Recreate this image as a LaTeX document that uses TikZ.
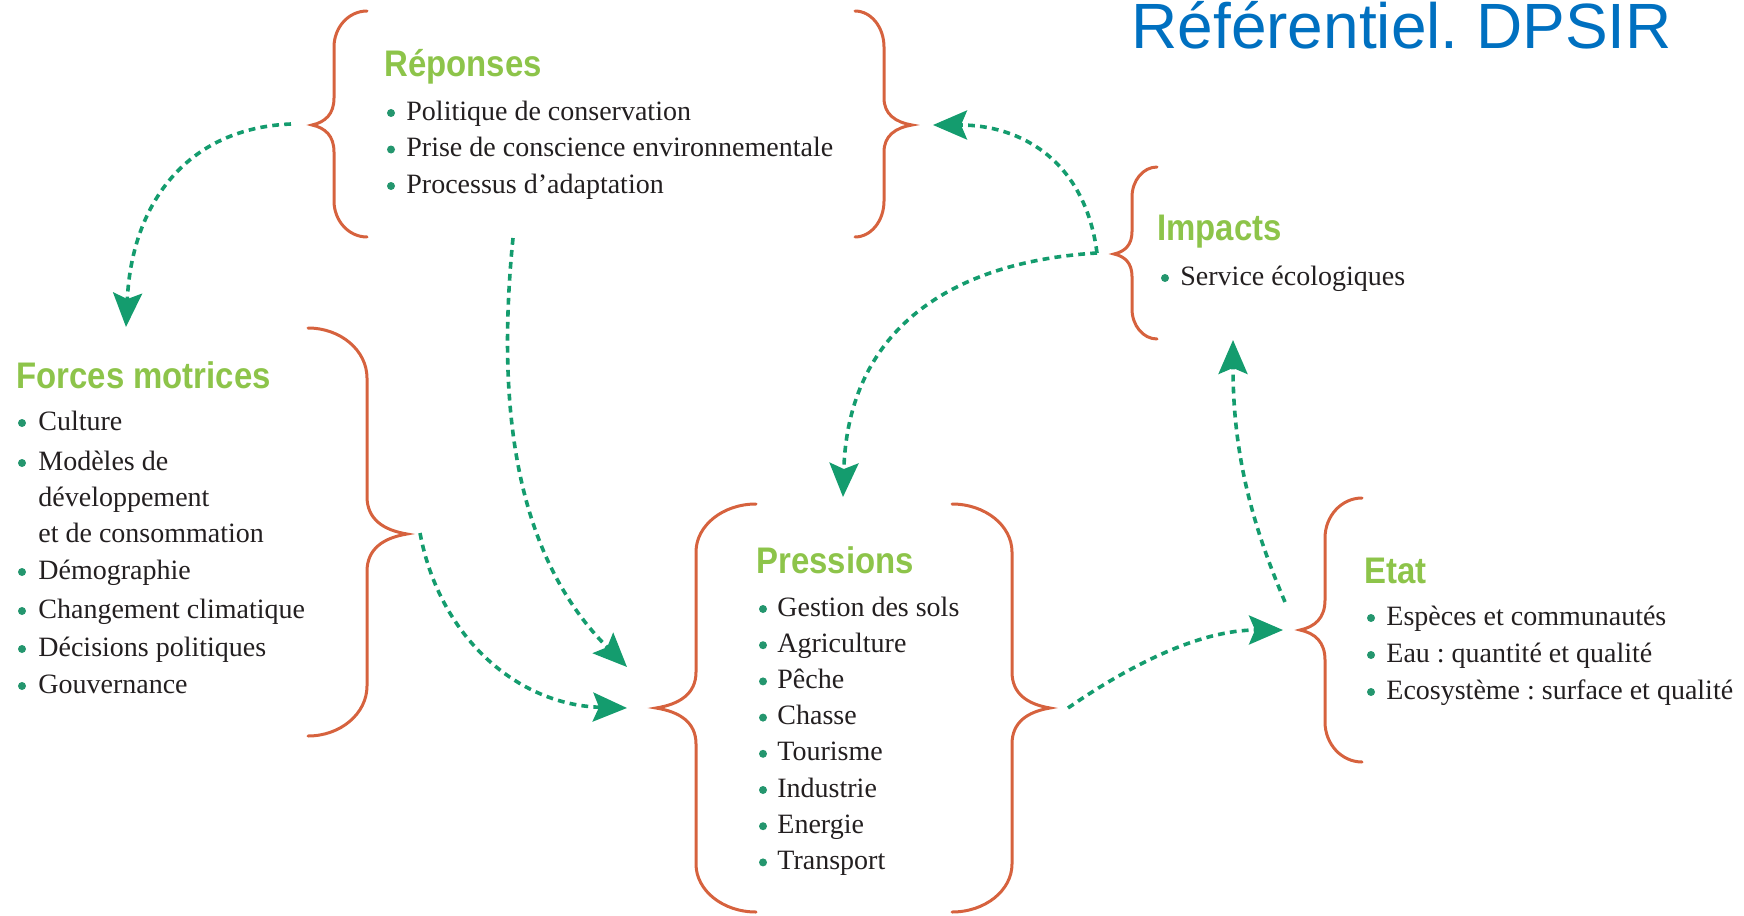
\documentclass[tikz,border=0pt]{standalone}
\usepackage{fontspec}
\setmainfont{Liberation Serif}
\newfontfamily\headfont[FakeStretch=0.89]{Liberation Sans}
\newfontfamily\bannerfont{Liberation Sans}
\usepackage{tikz}
\usetikzlibrary{arrows.meta}
\frenchspacing
\definecolor{bracered}{RGB}{214,98,62}
\definecolor{headgreen}{RGB}{141,196,74}
\definecolor{flowgreen}{RGB}{20,156,110}
\definecolor{dotgreen}{RGB}{36,150,110}
\definecolor{inkgray}{RGB}{35,31,32}
\definecolor{bannerblue}{RGB}{0,112,192}

\newcommand{\curly}[7]{%
  \draw[curlyline] (#1,#4) .. controls ({#1+0.552*(#2-#1)},#4) and (#2,{#4+0.448*#7}) .. (#2,#4+#7)
    -- (#2,{#5-0.75*#7}) .. controls (#2,{#5-0.3*#7}) and ({#2+0.4*(#3-#2)},{#5-0.08*#7}) .. (#3,#5)
    .. controls ({#2+0.4*(#3-#2)},{#5+0.08*#7}) and (#2,{#5+0.3*#7}) .. (#2,{#5+0.75*#7})
    -- (#2,#6-#7) .. controls (#2,{#6-0.448*#7}) and ({#1+0.552*(#2-#1)},#6) .. (#1,#6);}

\begin{document}
\begin{tikzpicture}[x=0.5pt, y=-0.5pt,
    curlyline/.style={draw=bracered, line width=1.5pt, line cap=round},
    blockhead/.style={anchor=base west, inner sep=0pt, text=headgreen,
      font=\headfont\bfseries\fontsize{18.5}{20}\selectfont},
    entry/.style={anchor=base west, inner sep=0pt, text=inkgray,
      font=\fontsize{14}{16}\selectfont},
    flowarrow/.style={draw=flowgreen, line width=1.8pt,
      dash pattern=on 3.4pt off 2.6pt,
      -{Stealth[length=17pt, width=14.5pt, inset=3pt]}}]
    \useasboundingbox (0,0) rectangle (1744,915);

    \node[anchor=base west, inner sep=0pt, text=bannerblue,
      font=\bannerfont\fontsize{32}{36}\selectfont] (banner) at (1131,49)
      {Référentiel. DPSIR};

    \curly{367}{334}{312}{11}{125}{237}{36}
    \curly{855}{884}{912}{11}{125}{237}{36}
    \curly{308}{367}{407}{328}{534}{736}{50}
    \curly{756}{696}{656}{504}{708}{912}{48}
    \curly{952}{1012}{1050}{504}{708}{912}{48}
    \curly{1157}{1132}{1114}{167}{254}{339}{30}
    \curly{1362}{1325}{1300}{498}{630}{762}{40}

    \node[blockhead] (rep) at (384,77) {Réponses};
    \foreach[count=\i] \txt in {Politique de conservation,
        Prise de conscience environnementale, Processus d’adaptation} {
        \node[entry] (rep-\i) at (406,83.5+36.5*\i) {\txt};
        \fill[dotgreen] (391,76.5+36.5*\i) circle[radius=4];
    }

    \node[blockhead] (for) at (16,388) {Forces motrices};
    \foreach[count=\i] \txt/\y/\b in {Culture/430/1, Modèles de/470/1,
        développement/506/0, et de consommation/542/0, Démographie/579/1,
        Changement climatique/618/1, Décisions politiques/656/1,
        Gouvernance/693/1} {
        \node[entry] (for-\i) at (38,\y) {\txt};
        \ifnum\b=1 \fill[dotgreen] (22,\y-7) circle[radius=4]; \fi
    }

    \node[blockhead] (pre) at (756,573) {Pressions};
    \foreach[count=\i] \txt in {Gestion des sols, Agriculture, Pêche, Chasse,
        Tourisme, Industrie, Energie, Transport} {
        \node[entry] (pre-\i) at (777,579.8+36.2*\i) {\txt};
        \fill[dotgreen] (763,572.8+36.2*\i) circle[radius=4];
    }

    \node[blockhead] (imp) at (1157,240) {Impacts};
    \node[entry] (imp-1) at (1180,285) {Service écologiques};
    \fill[dotgreen] (1165,278) circle[radius=4];

    \node[blockhead] (eta) at (1364,583) {Etat};
    \foreach[count=\i] \txt in {Espèces et communautés,
        Eau : quantité et qualité, Ecosystème : surface et qualité} {
        \node[entry] (eta-\i) at (1386,588+37*\i) {\txt};
        \fill[dotgreen] (1371,581+37*\i) circle[radius=4];
    }

    \coordinate (rep-w) at (291,124);
    \coordinate (rep-s) at (513,238);
    \coordinate (rep-e) at (933,125);
    \coordinate (for-n) at (126,327);
    \coordinate (for-e) at (420,533);
    \coordinate (pre-nw) at (627,667);
    \coordinate (pre-w) at (627,708);
    \coordinate (pre-n) at (843,497);
    \coordinate (pre-e) at (1068,708);
    \coordinate (eta-w) at (1283,630);
    \coordinate (eta-nw) at (1285,602);
    \coordinate (imp-s) at (1233,340);
    \coordinate (imp-w) at (1097,253);

    \draw[flowarrow] (rep-w) .. controls (190,128) and (132,200) .. (for-n);
    \draw[flowarrow] (rep-s) .. controls (495,420) and (520,560) .. (pre-nw);
    \draw[flowarrow] (for-e) .. controls (440,640) and (520,705) .. (pre-w);
    \draw[flowarrow] (pre-e) .. controls (1130,665) and (1200,630) .. (eta-w);
    \draw[flowarrow] (eta-nw) .. controls (1250,520) and (1233,450) .. (imp-s);
    \draw[flowarrow] (imp-w) .. controls (1085,160) and (1020,125) .. (rep-e);
    \draw[flowarrow] (imp-w) .. controls (950,262) and (848,330) .. (pre-n);
\end{tikzpicture}
\end{document}
